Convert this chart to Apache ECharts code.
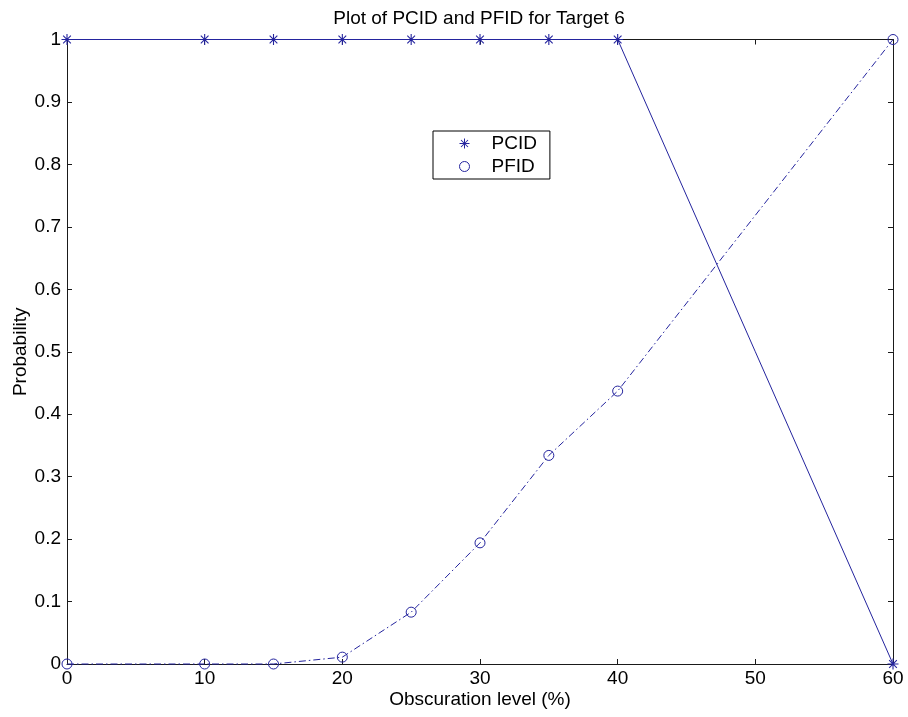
<!DOCTYPE html>
<html>
<head>
<meta charset="utf-8">
<title>Plot of PCID and PFID for Target 6</title>
<script src="https://cdn.jsdelivr.net/npm/echarts@6/dist/echarts.min.js"></script>
<style>
  html, body { margin: 0; padding: 0; background: #ffffff; }
  #chart { width: 908px; height: 717px; }
</style>
</head>
<body>
<div id="chart"></div>
<script>
// Obscuration levels (%) and the two probabilities measured at each level
const obscuration = [0, 10, 15, 20, 25, 30, 35, 40, 60];
const pcid = [1, 1, 1, 1, 1, 1, 1, 1, 0];
const pfid = [0, 0, 0, 0.011, 0.083, 0.194, 0.334, 0.437, 1];
const xTicks = [0, 10, 20, 30, 40, 50, 60];
const yTicks = [0, 0.1, 0.2, 0.3, 0.4, 0.5, 0.6, 0.7, 0.8, 0.9, 1];

const BLUE = '#24249e';
const FONT = '"Liberation Sans", Arial, sans-serif';
const FS = 19;

// Asterisk marker: vertical, horizontal and two diagonal strokes
const STAR = 'path://M9 0L11 0L11 20L9 20Z' +
  'M0 9L20 9L20 11L0 11Z' +
  'M3.7 2.3L17.7 16.3L16.3 17.7L2.3 3.7Z' +
  'M17.7 3.7L3.7 17.7L2.3 16.3L16.3 2.3Z';

const pair = (xs, ys) => xs.map((x, i) => [x, ys[i]]);

const axisColor = '#1a1a1a';
const boxAxis = (extra) => Object.assign({
  type: 'value',
  axisLine: { show: true, onZero: false, lineStyle: { color: axisColor, width: 1 } },
  axisTick: { show: true, inside: true, length: 5, lineStyle: { color: axisColor } },
  splitLine: { show: false }
}, extra);

const chart = echarts.init(document.getElementById('chart'), null, { renderer: 'canvas' });
chart.setOption({
  backgroundColor: '#ffffff',
  animation: false,
  title: {
    text: 'Plot of PCID and PFID for Target 6',
    left: 479,
    textAlign: 'center',
    top: 9,
    padding: 0,
    textStyle: { fontFamily: FONT, fontSize: FS, fontWeight: 'normal', color: '#000' }
  },
  legend: {
    left: 433,
    top: 131,
    orient: 'vertical',
    padding: [3, 13, 3, 26],
    itemGap: 4,
    itemWidth: 40,
    itemHeight: 10,
    borderColor: '#000',
    borderWidth: 1,
    backgroundColor: '#ffffff',
    selectedMode: false,
    textStyle: { fontFamily: FONT, fontSize: FS, color: '#000', padding: [0, 0, 0, 2] },
    data: [
      { name: 'PCID', icon: STAR, itemStyle: { color: BLUE, borderWidth: 0 } },
      { name: 'PFID', icon: 'circle', itemStyle: { color: 'rgba(0,0,0,0)', borderColor: BLUE, borderWidth: 1 } }
    ]
  },
  grid: { left: 67, right: 15, top: 39.5, bottom: 53, containLabel: false, outerBoundsMode: 'none' },
  xAxis: [
    boxAxis({
      position: 'bottom', min: xTicks[0], max: xTicks[xTicks.length - 1], interval: xTicks[1] - xTicks[0],
      name: 'Obscuration level (%)', nameLocation: 'middle', nameGap: 26, nameMoveOverlap: false,
      nameTextStyle: { fontFamily: FONT, fontSize: FS, color: '#000' },
      axisLabel: { margin: 5, fontFamily: FONT, fontSize: FS, color: '#000' }
    }),
    boxAxis({
      position: 'top', min: xTicks[0], max: xTicks[xTicks.length - 1], interval: xTicks[1] - xTicks[0],
      axisLabel: { show: false }
    })
  ],
  yAxis: [
    boxAxis({
      position: 'left', min: yTicks[0], max: yTicks[yTicks.length - 1], interval: yTicks[1] - yTicks[0],
      name: 'Probability', nameLocation: 'middle', nameGap: 37, nameMoveOverlap: false,
      nameTextStyle: { fontFamily: FONT, fontSize: FS, color: '#000' },
      axisLabel: { margin: 6, fontFamily: FONT, fontSize: FS, color: '#000' }
    }),
    boxAxis({
      position: 'right', min: yTicks[0], max: yTicks[yTicks.length - 1], interval: yTicks[1] - yTicks[0],
      axisLabel: { show: false }
    })
  ],
  series: [
    {
      name: 'PCID',
      type: 'line',
      data: pair(obscuration, pcid),
      symbol: STAR,
      symbolSize: 11,
      showAllSymbol: true,
      clip: false,
      lineStyle: { color: BLUE, width: 1, type: 'solid' },
      itemStyle: { color: BLUE, borderWidth: 0 },
      z: 3
    },
    {
      name: 'PFID',
      type: 'line',
      data: pair(obscuration, pfid),
      symbol: 'circle',
      symbolSize: 10,
      showAllSymbol: true,
      clip: false,
      lineStyle: { color: BLUE, width: 1, type: [7, 3, 1.5, 3] },
      itemStyle: { color: 'rgba(0,0,0,0)', borderColor: BLUE, borderWidth: 1 },
      z: 3
    }
  ]
});
</script>
</body>
</html>
